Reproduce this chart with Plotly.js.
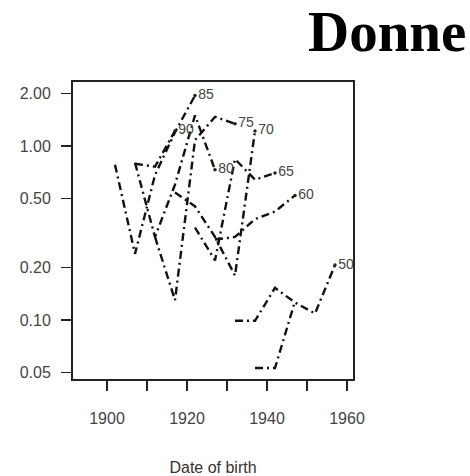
<!DOCTYPE html>
<html>
<head>
<meta charset="utf-8">
<script src="https://cdn.plot.ly/plotly-3.0.1.min.js"></script>
<style>html,body{margin:0;padding:0;background:#fff;}#chart{width:470px;height:476px;}</style>
</head>
<body>
<div id="chart"></div>
<script>
// Birth years (x) and rates (y) for each age group
const ageLabels = ['90', '85', '80', '75', '70', '65', '60', '', '50'];
const birth90 = [1907, 1912, 1917];
const rate90  = [0.79, 0.76, 1.22];
const birth85 = [1902, 1907, 1912, 1917, 1922];
const rate85  = [0.78, 0.24, 0.68, 1.20, 1.95];
const birth80 = [1907, 1912, 1917, 1922, 1927];
const rate80  = [0.80, 0.30, 0.60, 1.50, 0.73];
const birth75 = [1912, 1917, 1922, 1927, 1932];
const rate75  = [0.30, 0.13, 1.08, 1.47, 1.34];
const birth70 = [1917, 1922, 1927, 1932, 1937];
const rate70  = [0.54, 0.45, 0.30, 0.18, 1.22];
const birth65 = [1922, 1927, 1932, 1937, 1942];
const rate65  = [0.34, 0.22, 0.84, 0.64, 0.70];
const birth60 = [1927, 1932, 1937, 1942, 1947];
const rate60  = [0.29, 0.30, 0.38, 0.42, 0.52];
const birth55 = [1937, 1942, 1947];
const rate55  = [0.053, 0.053, 0.128];
const birth50 = [1932, 1937, 1942, 1947, 1952, 1957];
const rate50  = [0.099, 0.099, 0.153, 0.126, 0.109, 0.207];

const xTickVals = [1900, 1910, 1920, 1930, 1940, 1950, 1960];
const xTickText = ['1900', '', '1920', '', '1940', '', '1960'];
const yTickVals = [0.05, 0.1, 0.2, 0.5, 1, 2];
const yTickText = ['0.05', '0.10', '0.20', '0.50', '1.00', '2.00'];

const seriesX = [birth90, birth85, birth80, birth75, birth70, birth65, birth60, birth55, birth50];
const seriesY = [rate90, rate85, rate80, rate75, rate70, rate65, rate60, rate55, rate50];

const sans = 'Liberation Sans, Arial, Helvetica, sans-serif';
const traces = [];
seriesX.forEach((xs, i) => {
  traces.push({
    x: xs, y: seriesY[i], type: 'scatter', mode: 'lines',
    line: {color: '#111', width: 2.4, dash: '8px,4px,2px,4px'},
    hoverinfo: 'skip', showlegend: false
  });
});
// end-of-line labels
const endX = [], endY = [], endT = [];
seriesX.forEach((xs, i) => {
  if (ageLabels[i] !== '') {
    endX.push(xs[xs.length - 1]);
    endY.push(seriesY[i][seriesY[i].length - 1]);
    endT.push(ageLabels[i]);
  }
});
traces.push({
  x: endX, y: endY, text: endT, type: 'scatter', mode: 'markers+text',
  marker: {color: '#222', size: 3.5},
  textposition: 'middle right',
  textfont: {family: sans, size: 14, color: '#444'},
  cliponaxis: false, hoverinfo: 'skip', showlegend: false
});

const layout = {
  width: 470, height: 476,
  margin: {l: 73, r: 117, t: 82, b: 97},
  paper_bgcolor: '#fff', plot_bgcolor: '#fff',
  title: {
    text: '<b>Donne</b>',
    font: {family: 'Liberation Serif, Times New Roman, serif', size: 57, color: '#000'},
    x: 308 / 470, xref: 'container', xanchor: 'left',
    y: 1 - 31 / 476, yref: 'container', yanchor: 'middle'
  },
  xaxis: {
    range: [1891.5, 1961.5],
    tickmode: 'array', tickvals: xTickVals, ticktext: xTickText,
    ticks: 'outside', ticklen: 10, tickwidth: 1.5, tickcolor: '#222',
    ticklabelstandoff: 14,
    tickfont: {family: sans, size: 16, color: '#444'},
    showgrid: false, zeroline: false,
    showline: true, mirror: true, linecolor: '#222', linewidth: 2,
    title: {text: 'Date of birth', font: {family: sans, size: 16, color: '#333'}, standoff: 37}
  },
  yaxis: {
    type: 'log', range: [-1.339, 0.3675],
    tickmode: 'array', tickvals: yTickVals, ticktext: yTickText,
    ticks: 'outside', ticklen: 10, tickwidth: 1.5, tickcolor: '#222',
    ticklabelstandoff: 7,
    tickfont: {family: sans, size: 16, color: '#444'},
    showgrid: false, zeroline: false,
    showline: true, mirror: true, linecolor: '#222', linewidth: 2
  }
};

Plotly.newPlot('chart', traces, layout, {displayModeBar: false, staticPlot: true});
</script>
</body>
</html>
